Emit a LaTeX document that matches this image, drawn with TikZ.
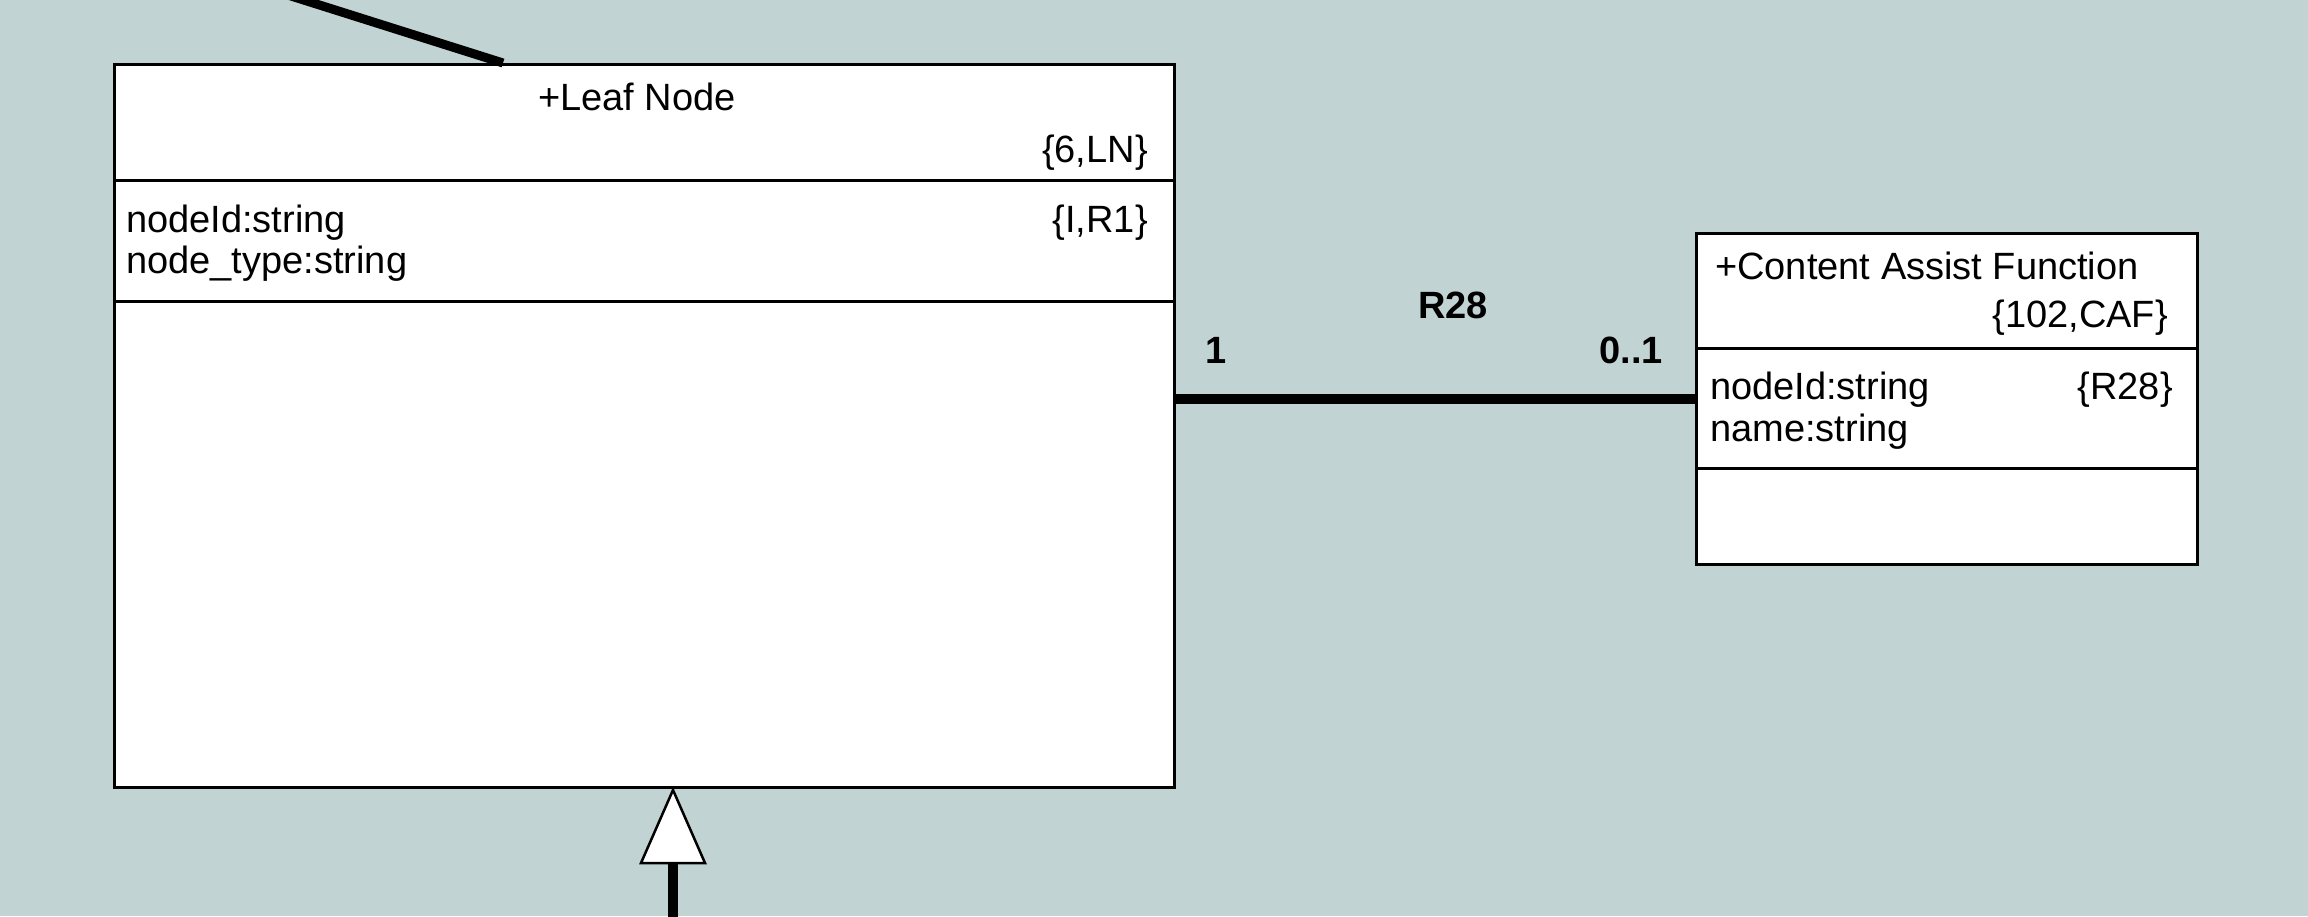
\documentclass[tikz,border=0pt]{standalone}
\usepackage{fontspec}
\setmainfont{Liberation Sans}
\definecolor{bgc}{RGB}{194,211,211}
\begin{document}
\begin{tikzpicture}[x=1bp,y=-1bp,
  classbox/.style={draw=black,fill=white,line width=3bp,rectangle,inner sep=0pt,anchor=north west},
  divider/.style={draw=black,line width=3bp},
  txt/.style={inner sep=0pt,font=\fontsize{38bp}{44bp}\selectfont},
  lbl/.style={inner sep=0pt,font=\fontsize{38bp}{44bp}\selectfont\bfseries},
  assoc/.style={draw=black,line width=10bp},
  thick link/.style={draw=black,line width=9bp}]
\fill[bgc] (0,0) rectangle (2308,916);
\useasboundingbox (0,0) rectangle (2308,916);
\begin{scope}
\clip (0,0) rectangle (2308,916);
% Leaf Node class
\node[classbox,minimum width=1060bp,minimum height=723bp] (leaf) at (113,63) {};
\draw[divider] (leaf.west |- 0,180) -- (leaf.east |- 0,180);
\draw[divider] (leaf.west |- 0,301) -- (leaf.east |- 0,301);
\node[txt,anchor=base] (lntitle) at (637,110) {+Leaf Node};
\node[txt,anchor=base east] (lnkey) at (1148,162) {\{6,LN\}};
\node[txt,anchor=base west] (lna1) at (126,232) {nodeId:string};
\node[txt,anchor=base west] (lna2) at (126,273) {node\_type:string};
\node[txt,anchor=base east] (lnref) at (1148,232) {\{I,R1\}};
% Content Assist Function class
\node[classbox,minimum width=501bp,minimum height=331bp] (caf) at (1695,232) {};
\draw[divider] (caf.west |- 0,348) -- (caf.east |- 0,348);
\draw[divider] (caf.west |- 0,468) -- (caf.east |- 0,468);
\node[txt,anchor=base west] (caftitle) at (1715,279) {+Content Assist Function};
\node[txt,anchor=base east] (cafkey) at (2168,327) {\{102,CAF\}};
\node[txt,anchor=base west] (cafa1) at (1710,399) {nodeId:string};
\node[txt,anchor=base west] (cafa2) at (1710,441) {name:string};
\node[txt,anchor=base east] (cafref) at (2173,399) {\{R28\}};
% R28 association
\coordinate (r28l) at (1176,399);
\draw[assoc] (r28l) -- (caf.west |- r28l);
\node[lbl,anchor=base] (r28) at (1453,318) {R28};
\node[lbl,anchor=base west] (m1) at (1205,363) {1};
\node[lbl,anchor=base east] (m01) at (1663,363) {0..1};
% slanted connector at the top
\coordinate (topend) at (272,-10);
\coordinate (topjoin) at (503,63);
\draw[thick link] (topend) -- (topjoin);
% generalization arrow at the bottom
\coordinate (gtip) at (673,790);
\coordinate (gbase) at (673,863);
\coordinate (gbot) at (673,930);
\draw[draw=black,line width=10bp] (gbot) -- (gbase);
\draw[draw=black,fill=white,line width=2.5bp,line join=miter] (gtip) -- (641,863) -- (705,863) -- cycle;
\end{scope}
\end{tikzpicture}
\end{document}
